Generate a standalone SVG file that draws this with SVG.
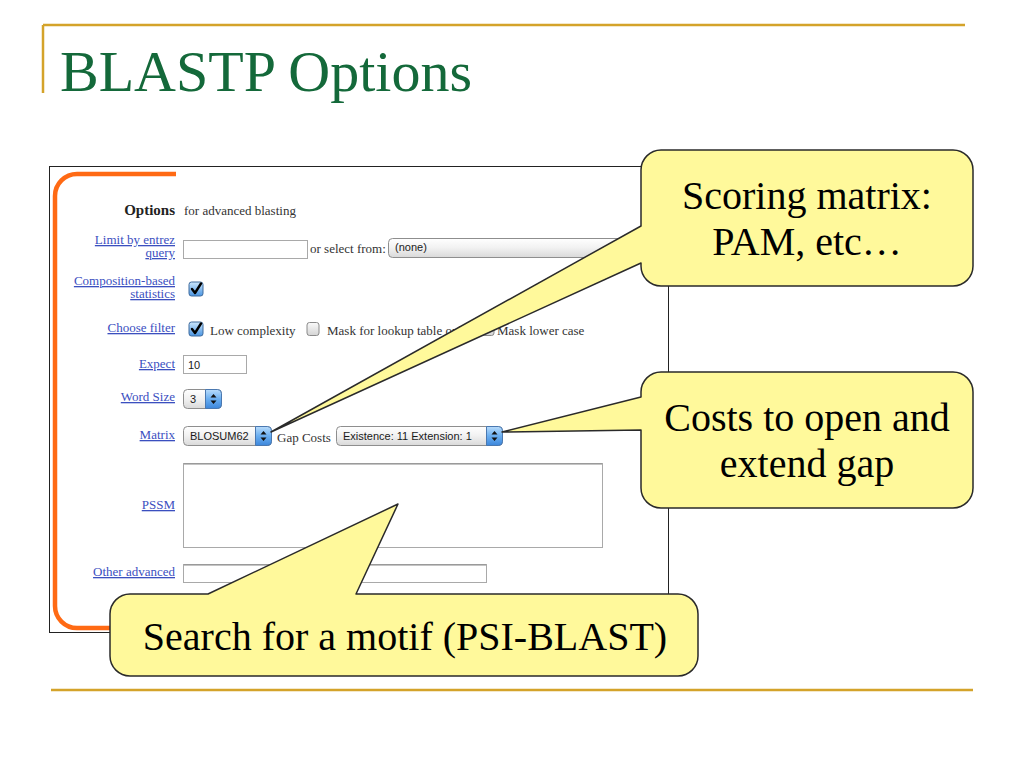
<svg xmlns="http://www.w3.org/2000/svg" width="1024" height="768" viewBox="0 0 1024 768">
<defs>
<linearGradient id="selGrad" x1="0" y1="0" x2="0" y2="1">
<stop offset="0" stop-color="#ffffff"/><stop offset="0.5" stop-color="#f1f1f1"/><stop offset="1" stop-color="#d9d9d9"/>
</linearGradient>
<linearGradient id="blueGrad" x1="0" y1="0" x2="0" y2="1">
<stop offset="0" stop-color="#b9dcfb"/><stop offset="0.5" stop-color="#6aaef0"/><stop offset="1" stop-color="#3c86db"/>
</linearGradient>
<linearGradient id="chkGrad" x1="0" y1="0" x2="0" y2="1">
<stop offset="0" stop-color="#cde7fc"/><stop offset="1" stop-color="#4a95e2"/>
</linearGradient>
<linearGradient id="boxGrad" x1="0" y1="0" x2="0" y2="1">
<stop offset="0" stop-color="#fafafa"/><stop offset="1" stop-color="#d4d4d4"/>
</linearGradient>
<g id="updown">
<path d="M0,-5 L3,-1.5 L-3,-1.5 Z M0,5 L3,1.5 L-3,1.5 Z" fill="#111"/>
</g>
<g id="check">
<rect x="0" y="0" width="14" height="14" rx="2.5" fill="url(#chkGrad)" stroke="#3f6a9c" stroke-width="1"/>
<path d="M3,7 L6,11 L12,1.5" fill="none" stroke="#000" stroke-width="2.4" stroke-linecap="round" stroke-linejoin="round"/>
</g>
<g id="uncheck">
<rect x="0" y="0" width="12" height="13" rx="2.5" fill="url(#boxGrad)" stroke="#8a8a8a" stroke-width="1"/>
</g>
</defs>
<style>
.gold{stroke:#d4a32a;fill:none}
.title{font-family:"Liberation Serif","Times New Roman",serif;font-size:58px;fill:#14693a}
.lbl{font-family:"Liberation Serif","Times New Roman",serif;font-size:13px;fill:#3b4fbf;text-decoration:underline;text-anchor:end}
.txt{font-family:"Liberation Serif","Times New Roman",serif;font-size:13px;fill:#333}
.ui{font-family:"Liberation Sans",Arial,sans-serif;font-size:11px;fill:#1a1a1a}
.field{fill:#fff;stroke:#a9a9a9;stroke-width:1}
.sel{fill:url(#selGrad);stroke:#8e8e8e;stroke-width:1}
.step{fill:url(#blueGrad);stroke:#4a78b0;stroke-width:1}
.callout{fill:#fff99b;stroke:#2a2a2a;stroke-width:1.5;stroke-linejoin:round}
.ctext{font-family:"Liberation Serif","Times New Roman",serif;font-size:40px;fill:#000;text-anchor:middle}
</style>

<!-- slide decoration -->
<line class="gold" x1="43" y1="25" x2="965" y2="25" stroke-width="2.5"/>
<line class="gold" x1="43" y1="25" x2="43" y2="93" stroke-width="2.5"/>
<line class="gold" x1="51" y1="690" x2="973" y2="690" stroke-width="2.5"/>
<text class="title" x="60" y="91">BLASTP Options</text>

<!-- screenshot of form -->
<g id="form">
<rect x="49.5" y="166.5" width="619" height="466" fill="#fff" stroke="#222" stroke-width="1"/>
<path d="M176,174 H77 A22 22 0 0 0 55,196 V606 A22 22 0 0 0 77,628 H140" fill="none" stroke="#ff6a14" stroke-width="4.5"/>

<text x="175" y="215" font-family="Liberation Serif,Times New Roman,serif" font-size="15" font-weight="bold" fill="#222" text-anchor="end">Options</text>
<text class="txt" x="184" y="215">for advanced blasting</text>

<text class="lbl" x="175" y="244">Limit by entrez</text>
<text class="lbl" x="175" y="257">query</text>
<rect class="field" x="183.5" y="240.5" width="124" height="18"/>
<text class="txt" x="310" y="253">or select from:</text>
<rect class="sel" x="388.5" y="238.5" width="262" height="19" rx="4"/>
<text class="ui" x="395" y="251">(none)</text>

<text class="lbl" x="175" y="285">Composition-based</text>
<text class="lbl" x="175" y="298">statistics</text>
<use href="#check" x="189" y="282"/>

<text class="lbl" x="175" y="332">Choose filter</text>
<use href="#check" x="189" y="322"/>
<text class="txt" x="210" y="335">Low complexity</text>
<use href="#uncheck" x="307" y="322.5"/>
<text class="txt" x="327" y="335">Mask for lookup table only</text>
<use href="#uncheck" x="482" y="322.5"/>
<text class="txt" x="497" y="335">Mask lower case</text>

<text class="lbl" x="175" y="368">Expect</text>
<rect class="field" x="183.5" y="355.5" width="63" height="18"/>
<text class="ui" x="188" y="369">10</text>

<text class="lbl" x="175" y="401">Word Size</text>
<rect class="sel" x="183.5" y="389.5" width="38" height="19" rx="4"/>
<path class="step" d="M205.5,389.5 H217.5 A4 4 0 0 1 221.5,393.5 V404.5 A4 4 0 0 1 217.5,408.5 H205.5 Z"/>
<text class="ui" x="190" y="403">3</text>
<use href="#updown" x="213.5" y="399"/>

<text class="lbl" x="175" y="439">Matrix</text>
<rect class="sel" x="183.5" y="426.5" width="88" height="19" rx="4"/>
<path class="step" d="M255.5,426.5 H267.5 A4 4 0 0 1 271.5,430.5 V441.5 A4 4 0 0 1 267.5,445.5 H255.5 Z"/>
<text class="ui" x="190" y="440">BLOSUM62</text>
<use href="#updown" x="263.5" y="436"/>
<text class="txt" x="277" y="442">Gap Costs</text>
<rect class="sel" x="336.5" y="426.5" width="166" height="19" rx="4"/>
<path class="step" d="M486.5,426.5 H498.5 A4 4 0 0 1 502.5,430.5 V441.5 A4 4 0 0 1 498.5,445.5 H486.5 Z"/>
<text class="ui" x="343" y="440">Existence: 11 Extension: 1</text>
<use href="#updown" x="494.5" y="436"/>

<text class="lbl" x="175" y="509">PSSM</text>
<rect class="field" x="183.5" y="463.5" width="419" height="84" stroke="#b5b5b5"/>
<line x1="184" y1="464" x2="602" y2="464" stroke="#8a8a8a" stroke-width="1"/>

<text class="lbl" x="175" y="576">Other advanced</text>
<rect class="field" x="183.5" y="564.5" width="303" height="18"/>
<line x1="184" y1="565" x2="486" y2="565" stroke="#8a8a8a" stroke-width="1"/>
</g>

<!-- callouts -->
<g id="callout-scoring">
<path class="callout" d="M661,150 H953 A20 20 0 0 1 973,170 V266 A20 20 0 0 1 953,286 H661 A20 20 0 0 1 641,266 V263 L271,432 L641,226 V170 A20 20 0 0 1 661,150 Z"/>
<text class="ctext" x="807" y="209">Scoring matrix:</text>
<text class="ctext" x="807" y="255">PAM, etc…</text>
</g>

<g id="callout-gap">
<path class="callout" d="M661,372 H953 A20 20 0 0 1 973,392 V488 A20 20 0 0 1 953,508 H661 A20 20 0 0 1 641,488 V430 L502,432 L641,397 V392 A20 20 0 0 1 661,372 Z"/>
<text class="ctext" x="807" y="431">Costs to open and</text>
<text class="ctext" x="807" y="477">extend gap</text>
</g>

<g id="callout-pssm">
<path class="callout" d="M130,594 H208 L398,504 L356,594 H678 A20 20 0 0 1 698,614 V656 A20 20 0 0 1 678,676 H130 A20 20 0 0 1 110,656 V614 A20 20 0 0 1 130,594 Z"/>
<text class="ctext" x="405" y="650">Search for a motif (PSI-BLAST)</text>
</g>

<g id="connectors"></g>
</svg>
